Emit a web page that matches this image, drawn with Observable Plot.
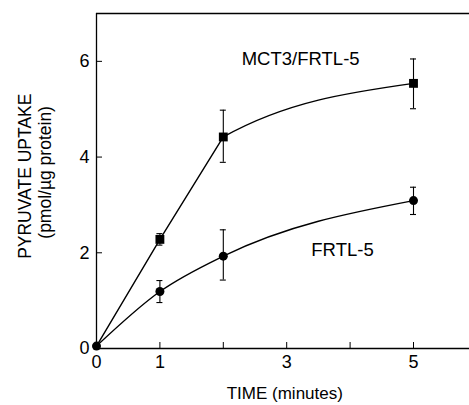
<!DOCTYPE html>
<html>
<head>
<meta charset="utf-8">
<script src="https://cdn.jsdelivr.net/npm/d3@7"></script>
<script src="https://cdn.jsdelivr.net/npm/@observablehq/plot@0.6"></script>
<style>
  body { margin: 0; background: #fff; }
  #chart svg { display: block; }
</style>
</head>
<body>
<div id="chart"></div>
<script>
const times = [0, 1, 2, 5];
const mct3Mean = [0.05, 2.28, 4.42, 5.54];
const mct3Lo   = [0.05, 2.16, 3.89, 5.01];
const mct3Hi   = [0.05, 2.40, 4.98, 6.05];
const frtlMean = [0.05, 1.19, 1.93, 3.09];
const frtlLo   = [0.05, 0.96, 1.43, 2.80];
const frtlHi   = [0.05, 1.42, 2.48, 3.37];
const xTickValues = [0, 1, 2, 3, 4, 5];
const xTickLabels = [0, 1, 3, 5];
const yTickValues = [0, 2, 4, 6];

const mct3 = times.map((t, i) => ({t, y: mct3Mean[i], lo: mct3Lo[i], hi: mct3Hi[i]}));
const frtl = times.map((t, i) => ({t, y: frtlMean[i], lo: frtlLo[i], hi: frtlHi[i]}));
const errs = [...mct3, ...frtl].filter(d => d.hi - d.lo > 0.01);

const W = 469, H = 405;
const mL = 96, mT = 13, mB = 57, mR = 0;
const xMax = (W - mL) / 63.4;
const plotH = H - mT - mB;
const plotW = W - mL - mR;
const font = "'Liberation Sans', Arial, Helvetica, sans-serif";

// straight segments through the early points, then a monotone Hermite bend into the last point
function kinkCurve(context) {
  let pts = [];
  return {
    areaStart() {}, areaEnd() {},
    lineStart() { pts = []; },
    point(x, y) { pts.push([+x, +y]); },
    lineEnd() {
      const n = pts.length;
      if (n < 3) {
        context.moveTo(pts[0][0], pts[0][1]);
        for (let i = 1; i < n; i++) context.lineTo(pts[i][0], pts[i][1]);
        return;
      }
      context.moveTo(pts[0][0], pts[0][1]);
      for (let i = 1; i < n - 1; i++) context.lineTo(pts[i][0], pts[i][1]);
      const [x0, y0] = pts[n - 3], [x1, y1] = pts[n - 2], [x2, y2] = pts[n - 1];
      const h0 = x1 - x0, h1 = x2 - x1;
      const s0 = (y1 - y0) / h0, s1 = (y2 - y1) / h1;
      const p = (s0 * h1 + s1 * h0) / (h0 + h1);
      const t1 = (Math.sign(s0) + Math.sign(s1)) * Math.min(Math.abs(s0), Math.abs(s1), 0.5 * Math.abs(p));
      const t2 = (3 * s1 - t1) / 2;
      const d = h1 / 3;
      context.bezierCurveTo(x1 + d, y1 + d * t1, x2 - d, y2 - d * t2, x2, y2);
    }
  };
}

const chart = Plot.plot({
  width: W, height: H,
  marginLeft: mL, marginTop: mT, marginBottom: mB, marginRight: mR,
  style: {fontFamily: font, color: "#000", background: "#fff"},
  x: {domain: [0, xMax]},
  y: {domain: [0, 7]},
  marks: [
    // frame lines
    Plot.ruleX([0], {stroke: "#000", strokeWidth: 1.3}),
    Plot.ruleY([0, 7], {stroke: "#000", strokeWidth: 1.3}),
    // inward ticks
    Plot.ruleX(xTickValues, {x: d => d, y1: 7, y2: 0, insetTop: plotH - 6, stroke: "#000", strokeWidth: 1}),
    Plot.ruleY(yTickValues, {y: d => d, x1: 0, x2: xMax, insetRight: plotW - 6, stroke: "#000", strokeWidth: 1}),
    // tick labels
    Plot.axisX(xTickLabels, {tickSize: 0, tickPadding: 7, fontSize: 18, label: null}),
    Plot.axisY(yTickValues, {tickSize: 0, tickPadding: 7, fontSize: 18, label: null}),
    // axis titles
    Plot.text(["TIME (minutes)"], {x: 2.97, frameAnchor: "bottom", lineAnchor: "middle", dy: 45, fontSize: 17, text: d => d, fill: "#000"}),
    Plot.text(["PYRUVATE UPTAKE"], {frameAnchor: "left", textAnchor: "middle", lineAnchor: "middle", y: 3.6, dx: -71.5, rotate: -90, fontSize: 17.5, text: d => d, fill: "#000"}),
    Plot.text(["(pmol/\u00b5g protein)"], {frameAnchor: "left", textAnchor: "middle", lineAnchor: "middle", y: 3.68, dx: -51, rotate: -90, fontSize: 17.5, text: d => d, fill: "#000"}),
    // curves
    Plot.line(mct3, {x: "t", y: "y", curve: kinkCurve, stroke: "#000", strokeWidth: 1.4}),
    Plot.line(frtl, {x: "t", y: "y", curve: "monotone-x", stroke: "#000", strokeWidth: 1.4}),
    // error bars
    Plot.ruleX(errs, {x: "t", y1: "lo", y2: "hi", stroke: "#000", strokeWidth: 1.1}),
    Plot.ruleY(errs, {y: "lo", x1: "t", x2: "t", insetLeft: -3, insetRight: -3, stroke: "#000", strokeWidth: 1.1}),
    Plot.ruleY(errs, {y: "hi", x1: "t", x2: "t", insetLeft: -3, insetRight: -3, stroke: "#000", strokeWidth: 1.1}),
    // markers
    Plot.dot(frtl, {x: "t", y: "y", r: 4.5, fill: "#000", stroke: "none"}),
    Plot.dot(mct3.filter(d => d.t > 0), {x: "t", y: "y", symbol: "square", r: 5, fill: "#000", stroke: "none"}),
    // series labels
    Plot.text(["MCT3/FRTL-5"], {x: 3.22, y: 6.05, fontSize: 18.5, text: d => d, fill: "#000"}),
    Plot.text(["FRTL-5"], {x: 3.88, y: 2.05, fontSize: 18.5, text: d => d, fill: "#000"})
  ]
});
document.getElementById("chart").appendChild(chart);
</script>
</body>
</html>
